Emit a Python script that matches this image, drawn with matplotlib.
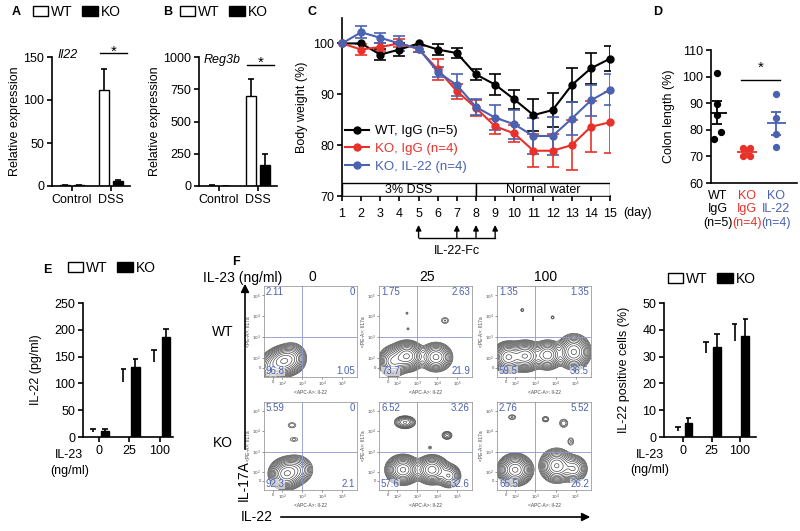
import matplotlib
matplotlib.use('Agg')
import matplotlib.pyplot as plt
from matplotlib.patches import Patch, Rectangle, FancyArrowPatch
from matplotlib.lines import Line2D
import numpy as np

plt.rcParams['font.family'] = ['Liberation Sans', 'DejaVu Sans']
plt.rcParams['font.size'] = 9
plt.rcParams['axes.linewidth'] = 1.2
plt.rcParams['xtick.major.width'] = 1.2
plt.rcParams['ytick.major.width'] = 1.2
plt.rcParams['xtick.major.size'] = 3.5
plt.rcParams['ytick.major.size'] = 3.5

W, H = 800, 531
RED = '#e8312a'
BLUE = '#4a62b0'

# --- A: Il22 expression
ab_groups = ['Control', 'DSS']
a_wt = [1.0, 112]
a_wt_err = [0.3, 24]
a_ko = [0.6, 6]
a_ko_err = [0.2, 1]

# --- B: Reg3b expression
b_wt = [3, 700]
b_wt_err = [1, 130]
b_ko = [2, 165]
b_ko_err = [1, 85]

# --- C: body weight
days = list(range(1, 16))
wt_igg = [100, 100, 97.8, 98.8, 100, 98.8, 98.1, 93.9, 91.9, 89.0, 85.9, 86.9, 91.8, 95.1, 97.0]
wt_igg_err = [0, 0, 1.1, 1.2, 0, 1.0, 1.0, 1.0, 2.0, 1.8, 3.1, 3.3, 3.3, 3.0, 2.5]
ko_igg = [100, 98.8, 99.3, 100, 98.9, 94.9, 90.6, 87.3, 83.7, 82.3, 78.9, 78.9, 80.0, 83.6, 84.5]
ko_igg_err = [0, 1.0, 0.8, 0.8, 0.5, 2.0, 1.5, 1.6, 1.5, 1.7, 3.2, 3.2, 4.9, 5.0, 6.0]
ko_il22 = [100, 102.2, 101.1, 100, 99.0, 94.4, 91.8, 87.5, 85.4, 84.1, 81.8, 81.8, 85.2, 88.8, 90.9]
ko_il22_err = [0, 1.2, 1.0, 1.5, 0.6, 1.0, 2.2, 1.5, 2.5, 2.9, 3.5, 3.7, 3.2, 3.0, 3.0]
treat_days = [5, 7, 8, 9]
c_labels = ['WT, IgG (n=5)', 'KO, IgG (n=4)', 'KO, IL-22 (n=4)']

# --- D: colon length
d_wt = [101.5, 89.6, 85.5, 79.0, 76.7]
d_ko = [73.0, 73.0, 70.3, 70.3]
d_ko22 = [93.3, 84.6, 78.3, 73.5]
d_ticklabels = ['WT\nIgG\n(n=5)', 'KO\nIgG\n(n=4)', 'KO\nIL-22\n(n=4)']

# --- E: IL-22 ELISA
doses = ['0', '25', '100']
e_wt = [10, 103, 140]
e_wt_err = [4, 24, 23]
e_ko = [11, 131, 186]
e_ko_err = [4, 14, 15]

# --- right: IL-22 positive cells
g_wt = [2.4, 31.2, 36.0]
g_wt_err = [1.4, 4.4, 6.2]
g_ko = [5.1, 33.5, 37.8]
g_ko_err = [1.9, 4.8, 6.2]

# --- F: flow quadrants (UL, UR, LL, LR)
wt_quads = [['2.11', '0', '96.8', '1.05'],
            ['1.75', '2.63', '73.7', '21.9'],
            ['1.35', '1.35', '59.5', '36.5']]
ko_quads = [['5.59', '0', '92.3', '2.1'],
            ['6.52', '3.26', '57.6', '32.6'],
            ['2.76', '5.52', '65.5', '26.2']]
# populations (centre x, centre y, spread x, spread y, weight) on log-decade scale
wt_blobs = [
    [(2.05, 1.85, 0.32, 0.28, 1.0), (2.5, 2.0, 0.3, 0.3, 0.45), (1.5, 1.6, 0.3, 0.3, 0.35)],
    [(2.5, 2.1, 0.33, 0.28, 1.0), (1.8, 1.85, 0.3, 0.3, 0.5), (3.95, 2.05, 0.33, 0.28, 0.55),
     (2.5, 4.15, 0.06, 0.06, 0.03), (2.55, 3.4, 0.06, 0.06, 0.03), (4.4, 3.8, 0.15, 0.12, 0.04)],
    [(1.65, 2.05, 0.3, 0.28, 0.8), (2.5, 2.1, 0.33, 0.28, 0.8), (3.6, 2.15, 0.3, 0.28, 0.5),
     (4.9, 2.3, 0.33, 0.33, 0.6), (2.35, 4.3, 0.07, 0.07, 0.03), (3.85, 3.95, 0.07, 0.07, 0.03)],
]
ko_blobs = [
    [(2.2, 1.9, 0.33, 0.3, 1.0), (2.7, 2.1, 0.35, 0.3, 0.4), (2.5, 4.3, 0.18, 0.12, 0.04),
     (2.6, 3.6, 0.2, 0.1, 0.035)],
    [(2.3, 2.1, 0.33, 0.28, 1.0), (3.75, 2.1, 0.33, 0.28, 0.8), (4.6, 1.8, 0.25, 0.25, 0.35),
     (2.4, 4.45, 0.25, 0.15, 0.2), (4.5, 3.8, 0.15, 0.12, 0.08), (3.65, 3.2, 0.08, 0.08, 0.03)],
    [(2.0, 2.1, 0.33, 0.3, 1.0), (4.05, 2.3, 0.33, 0.33, 0.7), (4.9, 2.15, 0.28, 0.28, 0.35),
     (1.85, 4.7, 0.15, 0.1, 0.04), (3.5, 4.6, 0.12, 0.1, 0.05), (4.4, 4.4, 0.15, 0.15, 0.05),
     (4.75, 3.5, 0.12, 0.15, 0.04)],
]

fig = plt.figure(figsize=(8, 5.31), dpi=100)


def ax_px(x0, y0, x1, y1):
    return fig.add_axes([x0 / W, 1 - y1 / H, (x1 - x0) / W, (y1 - y0) / H])


def ftext(x, y, s, **kw):
    fig.text(x / W, 1 - y / H, s, **kw)


def clean(ax):
    ax.spines['top'].set_visible(False)
    ax.spines['right'].set_visible(False)
    ax.tick_params(labelsize=9, pad=2)


def wtko_legend(x, y):
    hs = [Patch(facecolor='white', edgecolor='black', lw=1), Patch(facecolor='black', edgecolor='black')]
    fig.legend(hs, ['WT', 'KO'], loc='center left', bbox_to_anchor=(x / W, 1 - y / H), ncol=2,
               frameon=False, fontsize=10, handlelength=1.1, handleheight=0.65, handletextpad=0.2,
               columnspacing=0.7, borderpad=0, borderaxespad=0)


def up_err(ax, x, y, e, half=0.1):
    # one-sided error bar: stem plus top cap only
    x = np.asarray(x, float)
    top = np.asarray(y, float) + np.asarray(e, float)
    ax.vlines(x, y, top, color='black', lw=1.2)
    ax.hlines(top, x - half, x + half, color='black', lw=1.2)


def bar_panel(ax, wt, wt_err, ko, ko_err, off, width, half, wt_edge=True):
    x = np.arange(len(wt))
    ax.bar(x - off, wt, width, color='white', edgecolor='black' if wt_edge else 'none', lw=1)
    up_err(ax, x - off, wt, wt_err, half)
    ax.bar(x + off, ko, width, color='black', edgecolor='black', lw=1)
    up_err(ax, x + off, ko, ko_err, half)


# ---------- A
ax = ax_px(52, 57, 130, 186)
bar_panel(ax, a_wt, a_wt_err, a_ko, a_ko_err, 0.18, 0.27, 0.08)
ax.set_xlim(-0.51, 1.49)
ax.set_ylim(0, 150)
ax.set_yticks([0, 50, 100, 150])
ax.set_xticks([0, 1])
ax.set_xticklabels(ab_groups)
clean(ax)
ax.set_ylabel('Relative expression', fontsize=9, labelpad=2)
ax.text(-0.38, 152, 'Il22', style='italic', fontsize=9, va='center', ha='left')
ax.plot([0.72, 1.41], [154.7, 154.7], color='black', lw=1, clip_on=False)
ax.text(1.07, 151, '*', ha='center', va='baseline', fontsize=11)
ftext(12, 12, 'A', fontweight='bold', fontsize=9, va='center')
wtko_legend(33, 12)

# ---------- B
ax = ax_px(199, 57, 277, 186)
bar_panel(ax, b_wt, b_wt_err, b_ko, b_ko_err, 0.18, 0.27, 0.08)
ax.set_xlim(-0.51, 1.49)
ax.set_ylim(0, 1000)
ax.set_yticks([0, 250, 500, 750, 1000])
ax.set_xticks([0, 1])
ax.set_xticklabels(ab_groups)
clean(ax)
ax.set_ylabel('Relative expression', fontsize=9, labelpad=2)
ax.text(-0.38, 977, 'Reg3b', style='italic', fontsize=9, va='center', ha='left')
ax.plot([0.72, 1.41], [938, 938], color='black', lw=1, clip_on=False)
ax.text(1.07, 925, '*', ha='center', va='baseline', fontsize=11)
ftext(163, 12, 'B', fontweight='bold', fontsize=9, va='center')
wtko_legend(180, 12)

# ---------- C
ax = ax_px(342, 18, 610, 196)
series = [(wt_igg, wt_igg_err, 'black'), (ko_igg, ko_igg_err, RED), (ko_il22, ko_il22_err, BLUE)]
for vals, errs, col in series:
    ax.plot(days, vals, '-o', color=col, lw=1.5, ms=5, clip_on=False, zorder=3)
    idx = [i for i, e in enumerate(errs) if e > 0]
    ax.errorbar([days[i] for i in idx], [vals[i] for i in idx], yerr=[errs[i] for i in idx],
                fmt='none', ecolor=col, elinewidth=1.2, capsize=4, capthick=1.2, zorder=2)
ax.set_xlim(1, 15)
ax.set_ylim(70, 105)
ax.set_yticks([70, 80, 90, 100])
ax.set_xticks(days)
clean(ax)
ax.tick_params(axis='x', pad=5)
ax.set_ylabel('Body weight (%)', fontsize=9, labelpad=4)
ax.add_patch(Rectangle((1, 70), 7, 2.5, facecolor='white', edgecolor='black', lw=1, zorder=4))
ax.add_patch(Rectangle((8, 70), 7, 2.5, facecolor='white', edgecolor='black', lw=1, zorder=4))
ax.text(4.5, 71.25, '3% DSS', ha='center', va='center', fontsize=9, zorder=5)
ax.text(11.5, 71.25, 'Normal water', ha='center', va='center', fontsize=9, zorder=5)
for d in treat_days:
    ax.annotate('', xy=(d, 64.3), xytext=(d, 61.8), annotation_clip=False,
                arrowprops=dict(arrowstyle='-|>', color='black', lw=1, mutation_scale=8, shrinkA=0, shrinkB=0))
ax.plot([treat_days[0], treat_days[-1]], [61.8, 61.8], color='black', lw=1, clip_on=False)
ax.text(7, 59.2, 'IL-22-Fc', ha='center', va='center', fontsize=9)
ftext(637, 213, '(day)', ha='center', va='center', fontsize=9)
hs = [Line2D([], [], color=c, marker='o', ms=5, lw=1.5) for _, _, c in series]
leg = ax.legend(hs, c_labels, loc='upper left', bbox_to_anchor=(345 / W, 1 - 125 / H),
                bbox_transform=fig.transFigure, frameon=False, fontsize=9.5, handlelength=1.8,
                labelspacing=0.42, borderpad=0, borderaxespad=0, handletextpad=0.5)
for t, (_, _, c) in zip(leg.get_texts(), series):
    t.set_color(c)
ftext(307, 12, 'C', fontweight='bold', fontsize=9, va='center')


# ---------- D
def spread(vals, thr=3.0, step=0.12):
    order = np.argsort(vals)[::-1]
    offs = np.zeros(len(vals))
    clusters = []
    for i in order:
        if clusters and abs(vals[clusters[-1][-1]] - vals[i]) < thr:
            clusters[-1].append(i)
        else:
            clusters.append([i])
    for cl in clusters:
        if len(cl) > 1:
            for k, i in enumerate(cl):
                offs[i] = step if k % 2 == 0 else -step
    return offs


ax = ax_px(711, 50, 797, 183)
for k, (vals, col) in enumerate([(d_wt, 'black'), (d_ko, RED), (d_ko22, BLUE)]):
    x = k + 1
    ax.scatter(x + spread(vals), vals, s=18, color=col, zorder=3, clip_on=False)
    m = np.mean(vals)
    se = np.std(vals, ddof=1) / np.sqrt(len(vals))
    ax.hlines(m, x - 0.33, x + 0.33, color=col, lw=1.3)
    ax.hlines([m - se, m + se], x - 0.17, x + 0.17, color=col, lw=1.3)
    ax.vlines(x, m - se, m + se, color=col, lw=1.3)
ax.set_xlim(0.78, 3.7)
ax.set_ylim(60, 110)
ax.set_yticks(range(60, 111, 10))
ax.set_xticks([1, 2, 3])
ax.set_xticklabels(d_ticklabels, fontsize=9, linespacing=1.15)
for t, c in zip(ax.get_xticklabels(), ['black', RED, BLUE]):
    t.set_color(c)
clean(ax)
ax.tick_params(axis='x', length=0, pad=5)
ax.set_ylabel('Colon length (%)', fontsize=9, labelpad=5)
ax.plot([1.8, 3.13], [98.7, 98.7], color='black', lw=1)
ax.text(2.47, 100.5, '*', ha='center', va='bottom', fontsize=11)
ftext(653, 12, 'D', fontweight='bold', fontsize=9, va='center')

# ---------- E
ax = ax_px(83, 303, 173, 437)
bar_panel(ax, e_wt, e_wt_err, e_ko, e_ko_err, 0.2, 0.28, 0.09, wt_edge=False)
ax.set_xlim(-0.52, 2.43)
ax.set_ylim(0, 250)
ax.set_yticks(range(0, 251, 50))
ax.set_xticks([0, 1, 2])
ax.set_xticklabels(doses)
clean(ax)
ax.yaxis.set_label_coords((42 - 83) / 90, 0.5)
ax.set_ylabel('IL-22 (pg/ml)', fontsize=9)
ftext(69, 455, 'IL-23', ha='center', va='center', fontsize=9)
ftext(70, 471, '(ng/ml)', ha='center', va='center', fontsize=9)
ftext(43, 270, 'E', fontweight='bold', fontsize=9, va='center')
wtko_legend(68, 268)

# ---------- IL-22 positive cells
ax = ax_px(664, 303, 756, 437)
bar_panel(ax, g_wt, g_wt_err, g_ko, g_ko_err, 0.19, 0.28, 0.1, wt_edge=False)
ax.set_xlim(-0.67, 2.56)
ax.set_ylim(0, 50)
ax.set_yticks(range(0, 51, 10))
ax.set_xticks([0, 1, 2])
ax.set_xticklabels(doses)
clean(ax)
ax.yaxis.set_label_coords((630 - 664) / 92, 0.5)
ax.set_ylabel('IL-22 positive cells (%)', fontsize=9)
ftext(650, 455, 'IL-23', ha='center', va='center', fontsize=9)
ftext(650, 470, '(ng/ml)', ha='center', va='center', fontsize=9)
wtko_legend(668, 279)

# ---------- F: flow contour plots
col_px = [(264, 357), (379, 472), (497, 591)]
row_px = [(286, 377), (402, 490)]
u = np.linspace(1.1, 5.75, 220)
v = np.linspace(1.1, 5.45, 220)
U, V = np.meshgrid(u, v)
for r, (quads, blobs) in enumerate([(wt_quads, wt_blobs), (ko_quads, ko_blobs)]):
    for c in range(3):
        ax = ax_px(col_px[c][0], row_px[r][0], col_px[c][1], row_px[r][1])
        z = np.zeros_like(U)
        for cx, cy, sx, sy, w in blobs[c]:
            z += w * np.exp(-((U - cx) ** 2 / (2 * sx ** 2) + (V - cy) ** 2 / (2 * sy ** 2)))
        z /= z.max()
        ax.contour(U, V, z, levels=np.geomspace(0.02, 0.92, 13), colors='#3a3a3a', linewidths=0.45)
        ax.axvline(3, color='#8a98cc', lw=0.6)
        ax.axhline(3, color='#8a98cc', lw=0.6)
        ax.set_xlim(1.1, 5.75)
        ax.set_ylim(1.1, 5.45)
        ticks = [1.55, 2, 3, 4, 5]
        tl = ['0', '$10^2$', '$10^3$', '$10^4$', '$10^5$']
        ax.set_xticks(ticks)
        ax.set_xticklabels(tl)
        ax.set_yticks(ticks)
        ax.set_yticklabels(tl)
        ax.tick_params(labelsize=3, length=1.5, width=0.4, pad=0.8, colors='#444')
        for s in ax.spines.values():
            s.set_linewidth(0.5)
            s.set_color('#888')
        ax.set_xlabel('<APC-A>: Il-22', fontsize=3.5, labelpad=0.5, color='#444')
        ax.set_ylabel('<PE-A>: Il17a', fontsize=3.5, labelpad=0.5, color='#444')
        ul, ur, ll, lr = quads[c]
        kw = dict(fontsize=7, color=BLUE, zorder=6)
        box = dict(facecolor='white', edgecolor='none', alpha=0.6, pad=0.3)
        ax.text(1.2, 5.38, ul, ha='left', va='top', **kw)
        ax.text(5.65, 5.38, ur, ha='right', va='top', **kw)
        ax.text(1.2, 1.15, ll, ha='left', va='bottom', bbox=box, **kw)
        ax.text(5.65, 1.15, lr, ha='right', va='bottom', bbox=box, **kw)

ftext(232, 262, 'F', fontweight='bold', fontsize=9, va='center')
ftext(282, 278, 'IL-23 (ng/ml)', ha='right', va='center', fontsize=10)
for (x0, x1), d in zip(col_px, doses):
    ftext((x0 + x1) / 2 + 2, 277, d, ha='center', va='center', fontsize=10)
ftext(223, 332, 'WT', ha='center', va='center', fontsize=10)
ftext(223, 443, 'KO', ha='center', va='center', fontsize=10)
fig.add_artist(FancyArrowPatch((245 / W, 1 - 452 / H), (245 / W, 1 - 281 / H),
               transform=fig.transFigure, arrowstyle='-|>', mutation_scale=12, lw=1.2, color='black'))
fig.add_artist(FancyArrowPatch((278 / W, 1 - 517 / H), (593 / W, 1 - 517 / H),
               transform=fig.transFigure, arrowstyle='-|>', mutation_scale=12, lw=1.2, color='black'))
ftext(244, 481, 'IL-17A', ha='center', va='center', rotation=90, fontsize=10)
ftext(257, 517, 'IL-22', ha='center', va='center', fontsize=10)

fig.savefig('out.png', dpi=100)
